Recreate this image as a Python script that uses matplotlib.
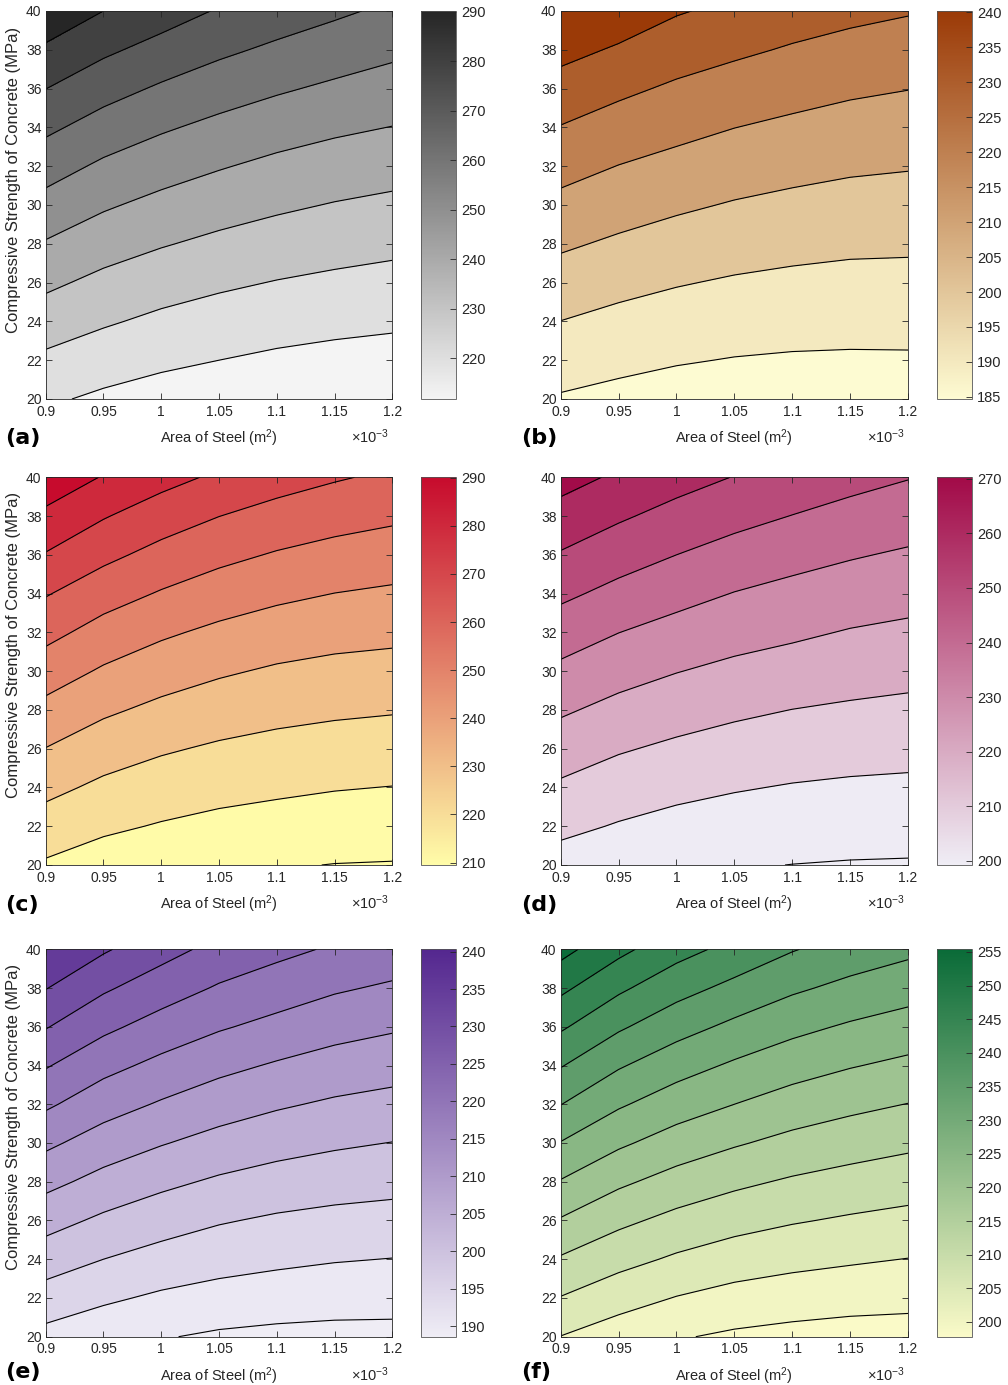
import numpy as np
import matplotlib
matplotlib.use("Agg")
import matplotlib.pyplot as plt
from matplotlib.colors import LinearSegmentedColormap, Normalize
from matplotlib.cm import ScalarMappable

plt.rcParams['font.family'] = ['Liberation Sans', 'DejaVu Sans']
plt.rcParams['mathtext.fontset'] = 'custom'
plt.rcParams['mathtext.rm'] = 'Liberation Sans'
plt.rcParams['mathtext.it'] = 'Liberation Sans:italic'
plt.rcParams['mathtext.bf'] = 'Liberation Sans:bold'

# ---------------- data ----------------
AREA_STEEL = [0.9, 0.95, 1.0, 1.05, 1.1, 1.15, 1.2]      # x 10^-3 m^2
FC = [20, 22, 24, 26, 28, 30, 32, 34, 36, 38, 40]         # MPa
X_TICKS = [0.9, 0.95, 1.0, 1.05, 1.1, 1.15, 1.2]
X_TICK_LABELS = ['0.9', '0.95', '1', '1.05', '1.1', '1.15', '1.2']
Y_TICKS = [20, 22, 24, 26, 28, 30, 32, 34, 36, 38, 40]

# rows follow FC, columns follow AREA_STEEL
Z_A = [[221.5, 218.2, 215.9, 214.2, 212.6, 211.6, 211.1],
       [228.1, 224.7, 221.9, 220.0, 218.3, 217.1, 216.3],
       [234.9, 231.1, 228.0, 225.7, 223.9, 222.6, 221.6],
       [242.0, 237.4, 234.1, 231.6, 229.6, 228.1, 226.9],
       [249.2, 244.4, 240.7, 237.8, 235.5, 233.7, 232.3],
       [256.7, 251.2, 247.3, 244.2, 241.6, 239.5, 237.9],
       [264.2, 258.3, 254.2, 250.7, 247.7, 245.5, 243.8],
       [272.0, 265.9, 261.2, 257.5, 254.3, 251.7, 249.8],
       [280.1, 273.7, 268.7, 264.6, 261.2, 258.3, 255.9],
       [288.5, 281.8, 276.6, 271.9, 268.2, 265.1, 262.0],
       [296.8, 290.0, 284.6, 279.2, 275.2, 271.6, 268.2]]
Z_B = [[189.1, 187.3, 185.8, 184.9, 184.5, 184.5, 184.7],
       [194.5, 192.4, 190.7, 189.6, 189.0, 188.8, 188.9],
       [199.9, 197.4, 195.6, 194.3, 193.5, 193.1, 193.1],
       [205.7, 202.8, 200.6, 199.0, 198.0, 197.3, 197.2],
       [211.4, 208.5, 206.0, 204.1, 202.7, 201.8, 201.5],
       [217.4, 214.1, 211.5, 209.3, 207.7, 206.5, 206.0],
       [223.4, 219.8, 217.1, 214.7, 212.9, 211.4, 210.6],
       [229.6, 225.8, 222.8, 220.1, 218.1, 216.4, 215.4],
       [236.2, 232.0, 228.5, 225.8, 223.5, 221.5, 220.2],
       [242.9, 238.9, 234.6, 231.7, 229.1, 227.0, 225.4],
       [249.5, 245.7, 240.8, 237.7, 234.6, 232.4, 230.7]]
Z_C = [[218.8, 215.4, 213.5, 211.7, 210.7, 209.8, 209.5],
       [225.7, 221.7, 219.3, 217.4, 216.2, 215.2, 214.6],
       [232.6, 228.0, 225.1, 223.1, 221.7, 220.5, 219.8],
       [239.8, 234.6, 231.1, 228.7, 227.1, 226.0, 225.2],
       [247.2, 241.6, 237.7, 234.9, 232.8, 231.5, 230.7],
       [254.9, 248.8, 244.5, 241.2, 238.8, 237.3, 236.5],
       [262.9, 256.3, 251.5, 247.9, 245.2, 243.4, 242.4],
       [270.7, 264.2, 259.2, 255.2, 252.1, 249.9, 248.5],
       [279.4, 272.4, 266.9, 262.5, 259.2, 256.7, 255.0],
       [287.9, 280.7, 274.8, 270.1, 266.5, 263.8, 261.7],
       [296.4, 289.4, 283.4, 278.3, 274.1, 270.9, 268.3]]
Z_D = [[206.0, 203.6, 201.8, 200.7, 199.9, 199.4, 199.2],
       [212.3, 209.3, 207.0, 205.5, 204.6, 204.05, 203.7],
       [218.5, 215.0, 212.5, 210.7, 209.4, 208.6, 208.2],
       [224.9, 220.9, 218.2, 216.2, 214.7, 213.6, 212.9],
       [231.3, 227.2, 224.2, 221.7, 219.9, 218.7, 217.8],
       [237.9, 233.6, 230.3, 227.7, 225.8, 224.0, 222.8],
       [244.8, 240.1, 236.6, 233.7, 231.6, 229.4, 228.0],
       [252.0, 247.2, 243.2, 239.7, 237.2, 235.1, 233.4],
       [259.2, 254.2, 250.0, 246.3, 243.3, 240.8, 238.8],
       [266.4, 261.3, 256.8, 253.0, 249.8, 246.9, 244.6],
       [273.6, 268.5, 263.7, 259.7, 256.3, 253.1, 250.4]]
Z_E = [[193.5, 191.7, 190.3, 189.3, 188.8, 188.55, 188.6],
       [197.9, 195.8, 194.2, 193.1, 192.4, 191.95, 191.7],
       [202.4, 200.0, 198.2, 196.9, 196.0, 195.3, 194.9],
       [206.8, 204.1, 202.1, 200.4, 199.3, 198.6, 198.2],
       [211.4, 208.4, 206.1, 204.3, 203.0, 202.1, 201.5],
       [216.0, 212.7, 210.3, 208.3, 206.8, 205.7, 204.9],
       [220.8, 217.1, 214.5, 212.3, 210.6, 209.3, 208.4],
       [225.4, 221.5, 218.7, 216.3, 214.5, 213.0, 212.0],
       [230.3, 226.1, 223.0, 220.5, 218.6, 216.8, 215.6],
       [235.2, 230.7, 227.4, 224.5, 222.5, 220.6, 219.3],
       [240.1, 235.6, 231.8, 228.5, 226.3, 224.4, 223.0]]
Z_F = [[204.9, 202.4, 200.4, 199.2, 198.5, 198.0, 197.9],
       [209.8, 207.0, 204.8, 203.3, 202.4, 201.8, 201.4],
       [214.5, 211.6, 209.3, 207.5, 206.4, 205.6, 204.9],
       [219.6, 216.1, 213.6, 211.8, 210.4, 209.4, 208.6],
       [224.7, 220.9, 218.1, 216.0, 214.4, 213.2, 212.2],
       [229.8, 225.8, 222.8, 220.5, 218.6, 217.2, 216.0],
       [235.1, 230.6, 227.4, 225.0, 222.8, 221.2, 219.9],
       [240.3, 235.5, 232.0, 229.3, 227.1, 225.3, 223.9],
       [245.7, 240.7, 236.9, 233.9, 231.3, 229.4, 227.9],
       [251.1, 245.9, 241.8, 238.7, 235.8, 233.7, 232.0],
       [256.6, 251.3, 246.8, 243.5, 240.3, 237.9, 236.1]]

LEVELS_A = [220, 230, 240, 250, 260, 270, 280, 290]
LEVELS_B = [190, 200, 210, 220, 230, 240]
LEVELS_C = [210, 220, 230, 240, 250, 260, 270, 280, 290]
LEVELS_D = [200, 210, 220, 230, 240, 250, 260, 270]
LEVELS_E = [190, 195, 200, 205, 210, 215, 220, 225, 230, 235, 240]
LEVELS_F = [200, 205, 210, 215, 220, 225, 230, 235, 240, 245, 250, 255]

CBAR_TICKS_A = [220, 230, 240, 250, 260, 270, 280, 290]
CBAR_TICKS_B = [185, 190, 195, 200, 205, 210, 215, 220, 225, 230, 235, 240]
CBAR_TICKS_C = [210, 220, 230, 240, 250, 260, 270, 280, 290]
CBAR_TICKS_D = [200, 210, 220, 230, 240, 250, 260, 270]
CBAR_TICKS_E = [190, 195, 200, 205, 210, 215, 220, 225, 230, 235, 240]
CBAR_TICKS_F = [200, 205, 210, 215, 220, 225, 230, 235, 240, 245, 250, 255]

CLIM_A = [211.8, 290.2]
CLIM_B = [184.7, 240.2]
CLIM_C = [209.5, 290.1]
CLIM_D = [199.2, 270.3]
CLIM_E = [188.6, 240.3]
CLIM_F = [197.8, 255.4]

PANEL_LABELS = ['(a)', '(b)', '(c)', '(d)', '(e)', '(f)']
X_LABEL = 'Area of Steel (m$^2$)'
Y_LABEL = 'Compressive Strength of Concrete (MPa)'

# ---------------- styles ----------------
CMAP_COLORS = [
    ['#f4f4f4', '#262626'],
    ['#fdfbd2', '#9b3a07'],
    ['#fffca8', '#c70b2d'],
    ['#efedf5', '#a20a48'],
    ['#efedf5', '#54278f'],
    ['#fafac8', '#0a6b38'],
]

W, H = 1008, 1385
fig = plt.figure(figsize=(W / 100, H / 100), dpi=100)

ROWS = [(11.0, 399.0), (477.3, 865.0), (949.3, 1336.7)]
COLS = [((45.7, 392.3), (421.0, 455.7)), ((560.7, 908.0), (936.7, 971.7))]
YLABEL_CENTER = [180, 645, 1117]
PANEL_LABEL_Y = [438, 905, 1372]
PANEL_LABEL_X = [5, 521]


def frame(x0, y0, x1, y1):
    return [x0 / W, 1 - y1 / H, (x1 - x0) / W, (y1 - y0) / H]


panels = [
    (Z_A, LEVELS_A, CBAR_TICKS_A, CLIM_A),
    (Z_B, LEVELS_B, CBAR_TICKS_B, CLIM_B),
    (Z_C, LEVELS_C, CBAR_TICKS_C, CLIM_C),
    (Z_D, LEVELS_D, CBAR_TICKS_D, CLIM_D),
    (Z_E, LEVELS_E, CBAR_TICKS_E, CLIM_E),
    (Z_F, LEVELS_F, CBAR_TICKS_F, CLIM_F),
]

X, Y = np.meshgrid(AREA_STEEL, FC)
DARK = '#262626'

for i, (z, levels, cticks, clim) in enumerate(panels):
    r, c = divmod(i, 2)
    (ax0, ax1), (cb0, cb1) = COLS[c]
    y0, y1 = ROWS[r]
    ax = fig.add_axes(frame(ax0, y0, ax1, y1))
    cax = fig.add_axes(frame(cb0, y0, cb1, y1))

    Z = np.array(z, dtype=float)
    cmap = LinearSegmentedColormap.from_list('m%d' % i, CMAP_COLORS[i])
    norm = Normalize(clim[0], clim[1])
    bounds = [Z.min() - 1] + list(levels) + [Z.max() + 1]
    fills = [cmap(norm(clim[0]))] + [cmap(norm(l)) for l in levels]
    ax.contourf(X, Y, Z, levels=bounds, colors=fills, antialiased=False)
    ax.contour(X, Y, Z, levels=levels, colors='k', linewidths=0.8)

    ax.set_xlim(AREA_STEEL[0], AREA_STEEL[-1])
    ax.set_ylim(FC[0], FC[-1])
    ax.set_xticks(X_TICKS)
    ax.set_xticklabels(X_TICK_LABELS)
    ax.set_yticks(Y_TICKS)
    ax.tick_params(direction='in', length=4, width=0.6, top=True, right=True,
                   labelsize=10, colors=DARK, pad=4)
    ax.tick_params(axis='y', pad=3)
    for s in ax.spines.values():
        s.set_color(DARK)
        s.set_linewidth(0.6)

    axh = y1 - y0
    ax.text(0.5, -44 / axh, X_LABEL, transform=ax.transAxes, ha='center',
            va='baseline', fontsize=10.5, color=DARK)
    ax.text(1.0 - 3 / (ax1 - ax0), -44 / axh, '\u00d710$^{-3}$', transform=ax.transAxes,
            ha='right', va='baseline', fontsize=10.5, color=DARK)

    sm = ScalarMappable(norm=norm, cmap=cmap)
    cb = fig.colorbar(sm, cax=cax, ticks=cticks)
    cb.ax.tick_params(direction='in', length=4, width=0.6, labelsize=10.5,
                      pad=4, colors=DARK)
    cb.outline.set_edgecolor('#555555')
    cb.outline.set_linewidth(0.6)

    if c == 0:
        fig.text(14 / W, 1 - YLABEL_CENTER[r] / H, Y_LABEL, rotation=90,
                 ha='center', va='center', fontsize=12, color=DARK)
    fig.text(PANEL_LABEL_X[c] / W, 1 - PANEL_LABEL_Y[r] / H, PANEL_LABELS[i],
             ha='left', va='center', fontsize=16, fontweight='bold',
             family='DejaVu Sans', color='black')

fig.savefig('out.png', dpi=100)
